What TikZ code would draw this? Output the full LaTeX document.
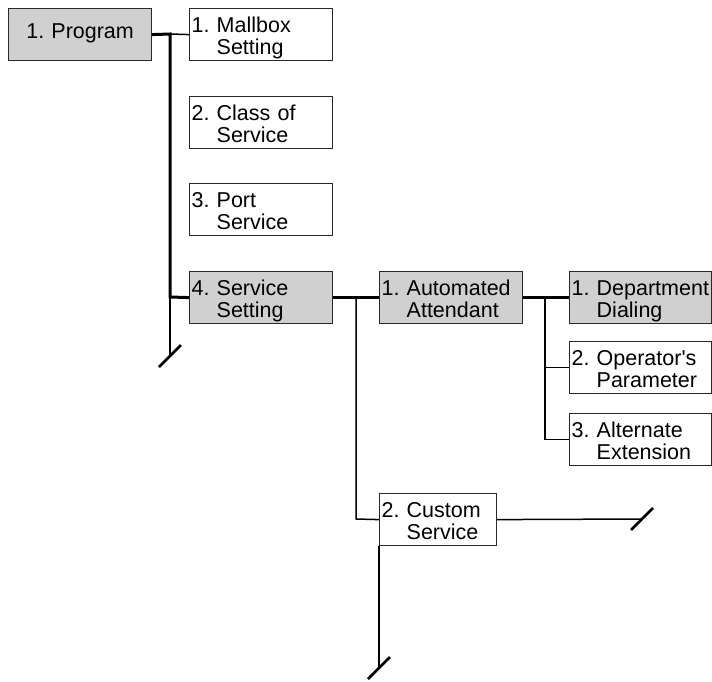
\documentclass[tikz,border=0pt]{standalone}
\usepackage{fontspec}
\setmainfont[Ligatures=TeXOff]{Liberation Sans}
\frenchspacing

\definecolor{boxgray}{RGB}{208,208,208}
\definecolor{boxline}{RGB}{40,40,40}

\newcommand{\menutext}[3]{\begin{tabular}[t]{@{}l@{\ }l@{}}#1 & #2\\ & #3\end{tabular}}

\begin{document}
\begin{tikzpicture}[x=1pt,y=-1pt]

% Define box and line styles
\tikzstyle{menu} =[rectangle, draw=boxline, line width=1.2pt, anchor=north west,
                   minimum height=52pt, inner sep=2pt, text width=139pt,
                   text height=22pt, text depth=26pt,
                   font=\fontsize{21.5}{21.5}\selectfont]
\tikzstyle{sel} =[menu, fill=boxgray]
\tikzstyle{trunk} =[line width=3pt]
\tikzstyle{branch} =[line width=1.5pt]
\tikzstyle{cut} =[line width=2.5pt]

\useasboundingbox (0,0) rectangle (712,682);

\node[sel, align=center, text height=28pt, text depth=20pt] (prog) at (8,8) {1. Program};
\node[menu] (mall) at (189,8) {\menutext{1.}{Mallbox}{Setting}};
\node[menu] (cls) at (189,96) {\menutext{2.}{Class of}{Service}};
\node[menu] (port) at (189,183) {\menutext{3.}{Port}{Service}};
\node[sel] (svc) at (189,271) {\menutext{4.}{Service}{Setting}};
\node[sel] (auto) at (379,271) {\menutext{1.}{Automated}{Attendant}};
\node[sel, text width=138pt] (dept) at (569,271) {\menutext{1.}{Department}{Dialing}};
\node[menu, text width=138pt] (oper) at (569,341) {\menutext{2.}{Operator's}{Parameter}};
\node[menu, text width=138pt] (alt) at (569,413) {\menutext{3.}{Alternate}{Extension}};
\node[menu, text width=113pt] (cust) at (379,493) {\menutext{2.}{Custom}{Service}};

% junctions and open ends
\coordinate (j1) at (170,34);
\coordinate (j2) at (170,297);
\coordinate (e1) at (170,356);
\coordinate (j3) at (356,297);
\coordinate (j4) at (356,519);
\coordinate (j5) at (545,297);
\coordinate (e2) at (642,519);
\coordinate (e3) at (379,668);

\draw[trunk] (prog.east) -- (j1) -- (j2) -- (svc.west);
\draw[branch] (j1) -- (mall.west);
\draw[branch] (j2) -- (e1);
\draw[trunk] (svc.east) -- (auto.west);
\draw[branch] (j3) -- (j4) -- (cust.west);
\draw[trunk] (auto.east) -- (dept.west);
\draw[branch] (j5) |- (alt.west);
\draw[branch] (j5 |- oper.west) -- (oper.west);
\draw[branch] (cust.east) -- (e2);
\draw[branch] (cust.south west) -- (e3);

\foreach \e in {e1,e2,e3}{
  \draw[cut] (\e) ++(-11,11) -- ++(22,-22);
}

\end{tikzpicture}
\end{document}
